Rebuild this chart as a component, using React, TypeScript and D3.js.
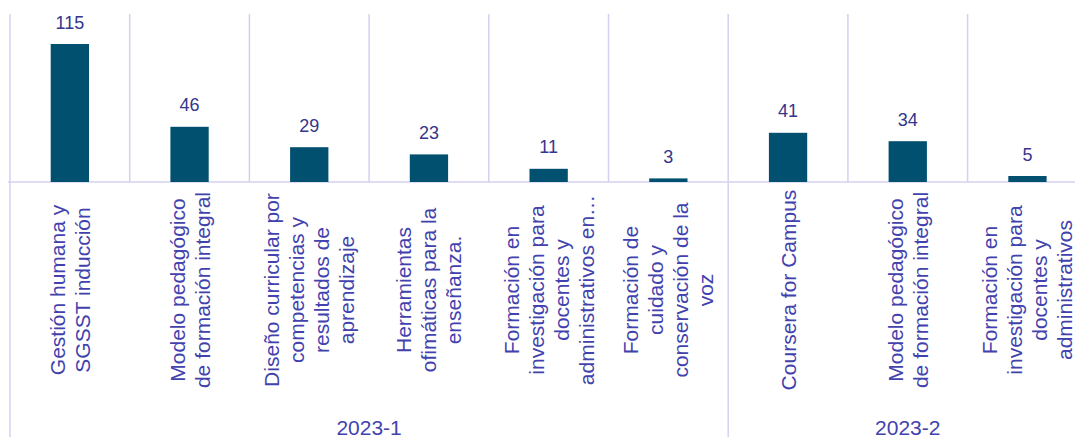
import React from "react";
import * as d3 from "d3";

const categories: string[] = [
  "Gestión humana y\nSGSST inducción",
  "Modelo pedagógico\nde formación integral",
  "Diseño curricular por\ncompetencias y\nresultados de\naprendizaje",
  "Herramientas\nofimáticas para la\nenseñanza.",
  "Formación en\ninvestigación para\ndocentes y\nadministrativos en…",
  "Formación de\ncuidado y\nconservación de la\nvoz",
  "Coursera for Campus",
  "Modelo pedagógico\nde formación integral",
  "Formación en\ninvestigación para\ndocentes y\nadministrativos",
];
const values: number[] = [115, 46, 29, 23, 11, 3, 41, 34, 5];
const categoryGroup: string[] = [
  "2023-1", "2023-1", "2023-1", "2023-1", "2023-1", "2023-1",
  "2023-2", "2023-2", "2023-2",
];
const groups: string[] = ["2023-1", "2023-2"];

const W = 1075;
const H = 437;
const left = 10;
const step = 119.7;
const top = 14;
const base = 182;
const gridColor = "#D4D0F0";
const barColor = "#02506F";
const valueColor = "#35358C";
const labelColor = "#4242AE";
const font = "'Liberation Sans', Arial, sans-serif";

export default function App() {
  const idx = categories.map((_, i) => i);
  const x = d3
    .scaleBand<number>()
    .domain(idx)
    .range([left, left + step * categories.length])
    .paddingInner(0.68)
    .paddingOuter(0.34);
  const y = d3.scaleLinear().domain([0, 140]).range([base, top]);
  const stepPx = x.step();
  const cellStart = (i: number) => left + i * stepPx;

  const groupSpans = groups.map((g) => {
    const members = idx.filter((i) => categoryGroup[i] === g);
    const s = cellStart(d3.min(members)!);
    const e = cellStart(d3.max(members)! + 1);
    return { g, s, e };
  });

  const labelCenterY = 290;
  const lineGap = 25;

  return (
    <svg
      width={W}
      height={H}
      style={{ position: "fixed", left: 0, top: 0, background: "#fff" }}
    >
      {/* category separators */}
      {d3.range(categories.length + 1).map((i) => {
        const xx = cellStart(i);
        const isGroupEdge = i === 0 || groupSpans.some((s) => Math.abs(s.s - xx) < 0.5 && i !== 0);
        return (
          <line
            key={"g" + i}
            x1={xx}
            x2={xx}
            y1={top}
            y2={isGroupEdge ? H : base}
            stroke={gridColor}
            strokeWidth={1.5}
          />
        );
      })}
      {/* baseline */}
      <line x1={left - 2} x2={W} y1={base} y2={base} stroke={gridColor} strokeWidth={1.5} />
      {/* bars */}
      {values.map((v, i) => (
        <rect
          key={"b" + i}
          x={x(i)!}
          y={y(v)}
          width={x.bandwidth()}
          height={y(0) - y(v)}
          fill={barColor}
        />
      ))}
      {/* value labels */}
      {values.map((v, i) => (
        <text
          key={"v" + i}
          x={x(i)! + x.bandwidth() / 2}
          y={y(v) - 15.5}
          textAnchor="middle"
          fontFamily={font}
          fontSize={18}
          fill={valueColor}
        >
          {v}
        </text>
      ))}
      {/* category labels */}
      {categories.map((c, i) => {
        const lines = c.split("\n");
        const cx = x(i)! + x.bandwidth() / 2;
        return lines.map((ln, j) => {
          const lx = cx + (j - (lines.length - 1) / 2) * lineGap;
          return (
            <text
              key={"c" + i + "-" + j}
              x={lx}
              y={labelCenterY}
              transform={`rotate(-90, ${lx}, ${labelCenterY})`}
              textAnchor="middle"
              dominantBaseline="central"
              fontFamily={font}
              fontSize={21}
              fill={labelColor}
            >
              {ln}
            </text>
          );
        });
      })}
      {/* group labels */}
      {groupSpans.map((s) => (
        <text
          key={"gl" + s.g}
          x={(s.s + s.e) / 2}
          y={434.5}
          textAnchor="middle"
          fontFamily={font}
          fontSize={21}
          fill={labelColor}
        >
          {s.g}
        </text>
      ))}
    </svg>
  );
}
